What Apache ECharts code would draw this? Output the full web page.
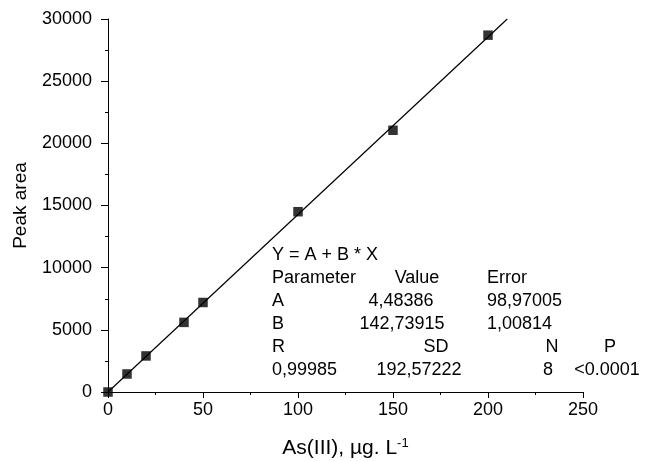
<!DOCTYPE html>
<html>
<head>
<meta charset="utf-8">
<script src="https://cdn.jsdelivr.net/npm/echarts@6/dist/echarts.min.js"></script>
<style>
  html, body { margin: 0; padding: 0; background: #fff; }
  #mainChart { width: 648px; height: 461px; }
</style>
</head>
<body>
<div id="mainChart"></div>
<script>
// measured points: As(III) concentration vs peak area
var concentrations = [0, 10, 20, 40, 50, 100, 150, 200];
var peakAreas = [0, 1450, 2900, 5600, 7200, 14500, 21050, 28700];

// linear fit Y = A + B * X
var fitA = 4.48386;
var fitB = 142.73915;

var tableRows = [
  ['Y = A + B * X'],
  ['Parameter', 'Value', 'Error'],
  ['A', '4,48386', '98,97005'],
  ['B', '142,73915', '1,00814'],
  ['R', 'SD', 'N', 'P'],
  ['0,99985', '192,57222', '8', '<0.0001']
];

var font = 'Arial, "Liberation Sans", sans-serif';
var yMax = 30000;

var scatterData = concentrations.map(function (x, i) { return [x, peakAreas[i]]; });
var xEnd = (yMax - fitA) / fitB;
var fitLine = [[0, fitA], [xEnd, fitA + fitB * xEnd]];

// text block positions (column anchor x, alignment)
var colPos = [
  [[272, 'left']],
  [[272, 'left'], [417, 'center'], [487, 'left']],
  [[272, 'left'], [401, 'center'], [487, 'left']],
  [[272, 'left'], [402, 'center'], [487, 'left']],
  [[272, 'left'], [436, 'center'], [552, 'center'], [610, 'center']],
  [[272, 'left'], [419, 'center'], [548, 'center'], [607, 'center']]
];
var texts = [];
tableRows.forEach(function (row, r) {
  row.forEach(function (cell, c) {
    texts.push({
      type: 'text',
      x: colPos[r][c][0],
      y: 255 + r * 23,
      style: {
        text: cell,
        fill: '#000',
        font: '18px ' + font,
        textAlign: colPos[r][c][1],
        textVerticalAlign: 'middle'
      }
    });
  });
});

var myChart = echarts.init(document.getElementById('mainChart'));
myChart.setOption({
  animation: false,
  backgroundColor: '#fff',
  grid: { left: 108, right: 65, top: 19, bottom: 69, containLabel: false, outerBoundsMode: 'none' },
  xAxis: {
    type: 'value',
    min: 0,
    max: 250,
    interval: 50,
    name: 'As(III), µg. L{sup|-1}',
    nameLocation: 'middle',
    nameGap: 45,
    nameTextStyle: {
      fontFamily: font, fontSize: 21, color: '#000',
      rich: { sup: { fontFamily: font, fontSize: 13, color: '#000', verticalAlign: 'top', padding: [0, 0, 10, 0] } }
    },
    axisLine: { show: true, onZero: false, lineStyle: { color: '#000', width: 1 } },
    axisTick: { show: true, inside: false, length: 6, lineStyle: { color: '#000' } },
    minorTick: { show: true, splitNumber: 2, length: 3, lineStyle: { color: '#000' } },
    axisLabel: { fontFamily: font, fontSize: 18, color: '#000', margin: 9 },
    splitLine: { show: false }
  },
  yAxis: {
    type: 'value',
    min: 0,
    max: yMax,
    interval: 5000,
    name: 'Peak area',
    nameLocation: 'middle',
    nameGap: 78,
    nameTextStyle: { fontFamily: font, fontSize: 19, color: '#000' },
    axisLine: { show: true, onZero: false, lineStyle: { color: '#000', width: 1 } },
    axisTick: { show: true, inside: false, length: 7, lineStyle: { color: '#000' } },
    minorTick: { show: true, splitNumber: 2, length: 3, lineStyle: { color: '#000' } },
    axisLabel: {
      fontFamily: font, fontSize: 18, color: '#000', margin: 16,
      formatter: function (v) { return String(v); }
    },
    splitLine: { show: false }
  },
  graphic: texts,
  series: [
    {
      name: 'fit',
      type: 'line',
      data: fitLine,
      symbol: 'none',
      lineStyle: { color: '#000', width: 1.2 },
      z: 2
    },
    {
      name: 'points',
      type: 'scatter',
      data: scatterData,
      symbol: 'rect',
      symbolSize: 9.5,
      itemStyle: { color: '#000' },
      clip: false,
      z: 3
    }
  ]
});
</script>
</body>
</html>
